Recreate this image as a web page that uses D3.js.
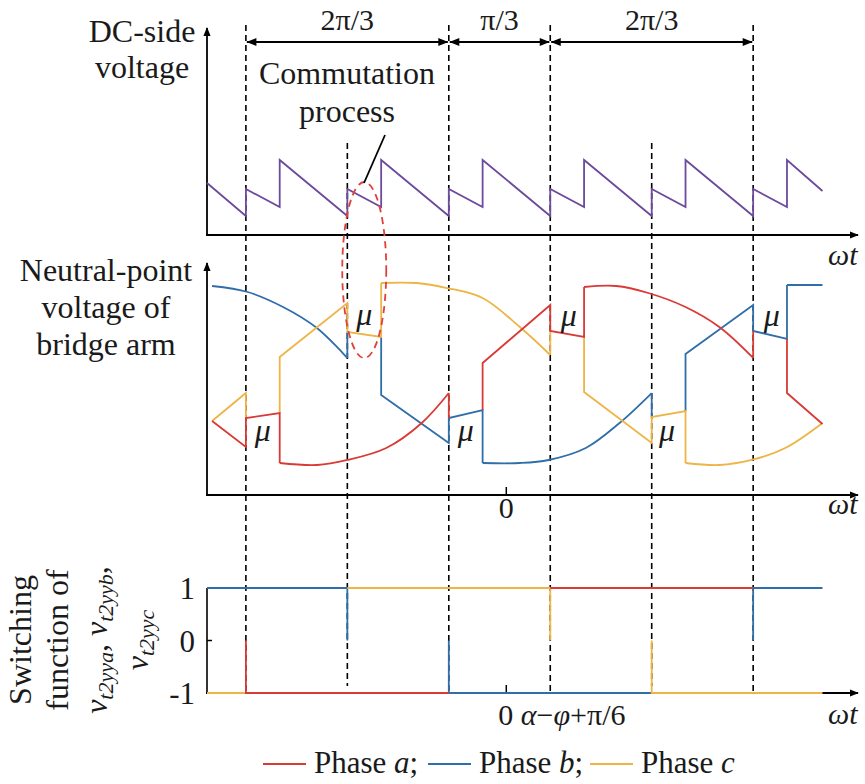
<!DOCTYPE html>
<html>
<head>
<meta charset="utf-8">
<script src="https://cdn.jsdelivr.net/npm/d3@7"></script>
<style>
body { margin: 0; background: #fff; }
</style>
</head>
<body>
<div id="app"></div>
<script>
// angles are in degrees, 0 = the first dashed line (start of a 2pi/3 interval)
var dcVoltage = [[-23,0.693],[0,0.253],[0,0.613],[20,0.373],[20,1.0],[60,0.253],[60,0.613],[80,0.373],[80,1.0],
  [120,0.253],[120,0.613],[140,0.373],[140,1.0],[180,0.253],[180,0.613],[200,0.373],[200,1.0],
  [240,0.253],[240,0.613],[260,0.373],[260,1.0],[300,0.253],[300,0.613],[320,0.373],[320,1.0],[341,0.587]];

// neutral-point voltage, curved parts and straight parts kept apart
var phaseAArcs = [
  [[20,-0.978],[42,-1.0],[60,-0.945],[83,-0.813],[104,-0.538],[120,-0.209]],
  [[200,0.956],[219,0.967],[238,0.89],[260,0.736],[280,0.516],[300,0.176]]
];
var phaseALines = [
  [[-20,-0.516],[0,-0.802],[0,-0.484],[20,-0.429],[20,-0.978]],
  [[120,-0.209],[120,-0.484]],
  [[140,-0.396],[140,0.121],[180,0.758],[180,0.473],[200,0.407],[200,0.956]],
  [[300,0.176],[300,0.473]],
  [[320,0.385],[320,-0.209],[341,-0.549]]
];
var phaseBArcs = [
  [[-20,0.967],[1,0.901],[22,0.736],[42,0.505],[60,0.176]],
  [[140,-0.978],[162,-0.978],[179,-0.945],[201,-0.813],[221,-0.538],[240,-0.209]],
  [[320,0.978],[341,0.978]]
];
var phaseBLines = [
  [[60,0.176],[60,0.462]],
  [[80,0.407],[80,-0.231],[120,-0.758],[120,-0.484],[140,-0.396],[140,-0.978]],
  [[240,-0.209],[240,-0.473]],
  [[260,-0.407],[260,0.22],[300,0.758],[300,0.473],[320,0.385],[320,0.978]]
];
var phaseCArcs = [
  [[80,1.0],[101,1.0],[119,0.945],[140,0.835],[162,0.516],[180,0.209]],
  [[260,-0.978],[280,-1.0],[299,-0.945],[319,-0.813],[341,-0.538]]
];
var phaseCLines = [
  [[-20,-0.516],[0,-0.209],[0,-0.484]],
  [[20,-0.429],[20,0.187],[60,0.78],[60,0.462],[80,0.407],[80,1.0]],
  [[180,0.209],[180,0.473]],
  [[200,0.407],[200,-0.198],[240,-0.758],[240,-0.473],[260,-0.407],[260,-0.978]]
];
var muMarks = [[70,0.626],[10,-0.648],[130,-0.648],[191,0.615],[249,-0.648],[311,0.615]];

// switching functions
var switchA = [[[0,0],[0,-1],[120,-1]], [[180,1],[300,1]]];
var switchB = [[[-23,1],[60,1],[60,0]], [[120,0],[120,-1],[240,-1]], [[300,0],[300,1],[341,1]]];
var switchC = [[[-23,-1],[0,-1]], [[60,1],[180,1],[180,0]], [[240,0],[240,-1],[341,-1]]];
var switchTicks = [1, 0, -1];
var zeroAngle = 154;

var fullDashes = [0, 120, 180, 300];
var shortDashes = [60, 240];
var spans = [[0,120,'2π/3'],[120,180,'π/3'],[180,300,'2π/3']];

var colA = '#d93a35', colB = '#2f6ea8', colC = '#eeb445', colDC = '#6c4a9c';

var svg = d3.select('#app').append('svg').attr('width', 865).attr('height', 784);
// the serif font only sticks when set right on the text element
function addText(parent) {
  return (parent || svg).append('text').attr('font-family', 'Liberation Serif').attr('fill', '#1a1a1a');
}
var defs = svg.append('defs');
defs.append('marker').attr('id', 'arr').attr('viewBox', '0 0 10 10').attr('refX', 9).attr('refY', 5)
  .attr('markerWidth', 9).attr('markerHeight', 9).attr('markerUnits', 'userSpaceOnUse').attr('orient', 'auto-start-reverse')
  .append('path').attr('d', 'M0,1 L10,5 L0,9 z').attr('fill', '#000');
defs.append('marker').attr('id', 'arr2').attr('viewBox', '0 0 10 10').attr('refX', 9.5).attr('refY', 5)
  .attr('markerWidth', 12).attr('markerHeight', 10).attr('markerUnits', 'userSpaceOnUse').attr('orient', 'auto-start-reverse')
  .append('path').attr('d', 'M0,1 L10,5 L0,9 z').attr('fill', '#000');

var x = d3.scaleLinear().domain([-23, 362]).range([207, 858]);
var y1 = d3.scaleLinear().domain([0, 1]).range([235, 160]);
var y2 = d3.scaleLinear().domain([-1, 1]).range([465, 283]);
var y3 = d3.scaleLinear().domain([-1, 1]).range([693, 588]);

// dashed guides go through all three panels
svg.selectAll('.fdash').data(fullDashes).enter().append('line')
  .attr('x1', d => x(d)).attr('x2', d => x(d)).attr('y1', 25).attr('y2', 693)
  .attr('stroke', '#000').attr('stroke-width', 1.6).attr('stroke-dasharray', '6,4');
svg.selectAll('.sdash').data(shortDashes).enter().append('line')
  .attr('x1', d => x(d)).attr('x2', d => x(d)).attr('y1', 143).attr('y2', 686)
  .attr('stroke', '#000').attr('stroke-width', 1.6).attr('stroke-dasharray', '6,4');

// interval arrows on top
spans.forEach(function(d) {
  svg.append('line').attr('x1', x(d[0]) + 1).attr('x2', x(d[1]) - 1).attr('y1', 42).attr('y2', 42)
    .attr('stroke', '#000').attr('stroke-width', 1.8)
    .attr('marker-start', 'url(#arr2)').attr('marker-end', 'url(#arr2)');
  addText().attr('x', (x(d[0]) + x(d[1])) / 2).attr('y', 30).attr('text-anchor', 'middle')
    .attr('font-size', 30).text(d[2]);
});

function axisArrow(x1, y1_, x2, y2_) {
  svg.append('line').attr('x1', x1).attr('y1', y1_).attr('x2', x2).attr('y2', y2_)
    .attr('stroke', '#000').attr('stroke-width', 1.8).attr('marker-end', 'url(#arr)');
}
function omegaT(yy) {
  var t = addText().attr('x', 828).attr('y', yy).attr('font-size', 30).attr('font-style', 'italic');
  t.append('tspan').text('ω');
  t.append('tspan').text('t');
}
function multiLine(lines, cx, y0, dy) {
  lines.forEach(function(l, i) {
    addText().attr('x', cx).attr('y', y0 + i * dy).attr('text-anchor', 'middle').attr('font-size', 32).text(l);
  });
}

// ---- panel 1: DC-side voltage
axisArrow(207, 236, 207, 28);
axisArrow(206, 235, 858, 235);
omegaT(265);
multiLine(['DC-side', 'voltage'], 142, 42, 36);
svg.append('path').datum(dcVoltage)
  .attr('d', d3.line().x(d => x(d[0])).y(d => y1(d[1])))
  .attr('fill', 'none').attr('stroke', colDC).attr('stroke-width', 1.8);

// ---- panel 2: neutral point voltage
axisArrow(207, 496, 207, 263);
axisArrow(206, 495, 858, 495);
omegaT(514);
svg.append('line').attr('x1', x(zeroAngle)).attr('x2', x(zeroAngle)).attr('y1', 495).attr('y2', 487).attr('stroke', '#000').attr('stroke-width', 1.5);
addText().attr('x', x(zeroAngle)).attr('y', 518).attr('text-anchor', 'middle').attr('font-size', 30).text('0');
multiLine(['Neutral-point', 'voltage of', 'bridge arm'], 106, 281, 37);

var arcLine = d3.line().x(d => x(d[0])).y(d => y2(d[1])).curve(d3.curveCatmullRom);
var segLine = d3.line().x(d => x(d[0])).y(d => y2(d[1]));
function drawPhase(arcs, lines, col) {
  var g = svg.append('g').attr('fill', 'none').attr('stroke', col).attr('stroke-width', 1.8);
  g.selectAll('.arc').data(arcs).enter().append('path').attr('d', arcLine);
  g.selectAll('.seg').data(lines).enter().append('path').attr('d', segLine).attr('stroke-linejoin', 'miter');
}
drawPhase(phaseBArcs, phaseBLines, colB);
drawPhase(phaseCArcs, phaseCLines, colC);
drawPhase(phaseAArcs, phaseALines, colA);

muMarks.forEach(function(d) {
  addText().attr('x', x(d[0])).attr('y', y2(d[1]) + 8).attr('text-anchor', 'middle')
    .attr('font-size', 32).attr('font-style', 'italic').text('μ');
});

// commutation annotation
svg.append('ellipse').attr('cx', x(70)).attr('cy', 270).attr('rx', 22).attr('ry', 88)
  .attr('fill', 'none').attr('stroke', '#e0403a').attr('stroke-width', 1.8).attr('stroke-dasharray', '7,5');
svg.append('line').attr('x1', 385).attr('y1', 135).attr('x2', 364).attr('y2', 183).attr('stroke', '#000').attr('stroke-width', 1.8);
multiLine(['Commutation', 'process'], 347, 84, 38);

// ---- panel 3: switching functions
svg.append('line').attr('x1', 207).attr('x2', 207).attr('y1', y3(1)).attr('y2', y3(-1)).attr('stroke', '#000').attr('stroke-width', 1.6);
switchTicks.forEach(function(d) {
  svg.append('line').attr('x1', 207).attr('x2', 212).attr('y1', y3(d)).attr('y2', y3(d)).attr('stroke', '#000').attr('stroke-width', 1.5);
  addText().attr('x', 195).attr('y', y3(d) + 11).attr('text-anchor', 'end').attr('font-size', 31).text(d);
});
axisArrow(206, 693, 858, 693);
omegaT(724);
svg.append('line').attr('x1', x(zeroAngle)).attr('x2', x(zeroAngle)).attr('y1', 693).attr('y2', 685).attr('stroke', '#000').attr('stroke-width', 1.5);
var zl = addText().attr('x', x(zeroAngle) - 8).attr('y', 725).attr('font-size', 30);
zl.append('tspan').text('0 ');
zl.append('tspan').attr('font-style', 'italic').text('α');
zl.append('tspan').text('−');
zl.append('tspan').attr('font-style', 'italic').text('φ');
zl.append('tspan').text('+π/6');

var swLine = d3.line().x(d => x(d[0])).y(d => y3(d[1]));
[[switchB, colB], [switchC, colC], [switchA, colA]].forEach(function(p) {
  svg.append('g').selectAll('path').data(p[0]).enter().append('path').attr('d', swLine)
    .attr('fill', 'none').attr('stroke', p[1]).attr('stroke-width', 1.8);
});

// rotated y label
function rotLine(bx, parts) {
  var t = addText().attr('transform', 'translate(' + bx + ',640) rotate(-90)')
    .attr('text-anchor', 'middle').attr('font-size', 32);
  parts.forEach(function(p) {
    var s = t.append('tspan').text(p[0]);
    if (p[1] === 'i') s.attr('font-style', 'italic');
    if (p[1] === 'sub') s.attr('font-style', 'italic').attr('font-size', 22).attr('baseline-shift', '-28%');
  });
}
rotLine(31, [['Switching', '']]);
rotLine(68, [['function of', '']]);
rotLine(107, [['v', 'i'], ['t2yya', 'sub'], [', ', ''], ['v', 'i'], ['t2yyb', 'sub'], [',', '']]);
rotLine(148, [['v', 'i'], ['t2yyc', 'sub']]);

// legend
var legend = [['a', colA, 263], ['b', colB, 428], ['c', colC, 590]];
legend.forEach(function(l, i) {
  svg.append('line').attr('x1', l[2]).attr('x2', l[2] + 43).attr('y1', 764).attr('y2', 764).attr('stroke', l[1]).attr('stroke-width', 1.8);
  var t = addText().attr('x', l[2] + 51).attr('y', 773).attr('font-size', 31);
  t.append('tspan').text('Phase ');
  t.append('tspan').attr('font-style', 'italic').text(l[0]);
  if (i < 2) t.append('tspan').text(';');
});
</script>
</body>
</html>
